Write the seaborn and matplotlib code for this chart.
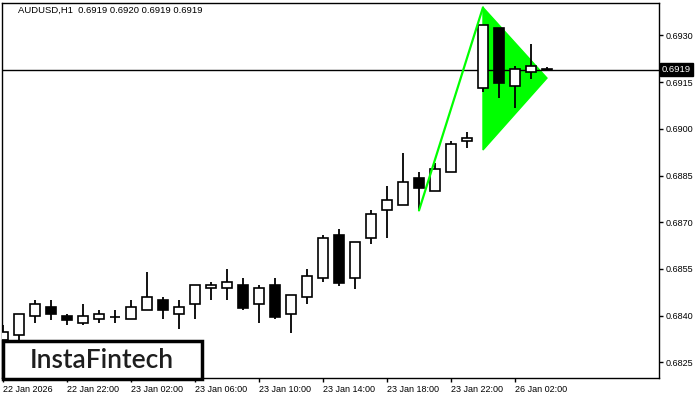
import matplotlib
matplotlib.use("Agg")
import matplotlib.pyplot as plt
from matplotlib.patches import Rectangle, Polygon
import numpy as np
import pandas as pd
import seaborn as sns

# hourly AUDUSD candles, 22 Jan 18:00 -> 26 Jan 04:00
opens = [0.68322, 0.68337, 0.68398, 0.68427, 0.68398, 0.68378, 0.68388, 0.68396,
         0.68388, 0.68417, 0.68449, 0.68407, 0.68436, 0.68488, 0.68488, 0.68497,
         0.68436, 0.68497, 0.68407, 0.68459, 0.68520, 0.68658, 0.68520, 0.68648,
         0.68738, 0.68757, 0.68841, 0.68799, 0.68860, 0.68960, 0.69130, 0.69323,
         0.69139, 0.69181, 0.69190]
highs = [0.68369, 0.68407, 0.68449, 0.68449, 0.68407, 0.68436, 0.68417, 0.68417,
         0.68449, 0.68539, 0.68459, 0.68449, 0.68497, 0.68507, 0.68549, 0.68520,
         0.68497, 0.68520, 0.68468, 0.68549, 0.68658, 0.68677, 0.68638, 0.68738,
         0.68818, 0.68921, 0.68860, 0.68889, 0.68960, 0.68989, 0.69332, 0.69323,
         0.69201, 0.69272, 0.69200]
lows = [0.68315, 0.68318, 0.68377, 0.68385, 0.68369, 0.68369, 0.68378, 0.68378,
        0.68388, 0.68417, 0.68388, 0.68356, 0.68388, 0.68449, 0.68449, 0.68417,
        0.68378, 0.68388, 0.68345, 0.68436, 0.68507, 0.68496, 0.68486, 0.68629,
        0.68648, 0.68757, 0.68738, 0.68799, 0.68860, 0.68940, 0.69119, 0.69100,
        0.69068, 0.69160, 0.69190]
closes = [0.68347, 0.68407, 0.68436, 0.68407, 0.68387, 0.68398, 0.68407, 0.68397,
          0.68427, 0.68459, 0.68417, 0.68427, 0.68497, 0.68497, 0.68507, 0.68425,
          0.68488, 0.68396, 0.68468, 0.68529, 0.68648, 0.68506, 0.68638, 0.68728,
          0.68770, 0.68828, 0.68809, 0.68870, 0.68950, 0.68969, 0.69332, 0.69148,
          0.69191, 0.69201, 0.69190]

tick_bars = [0, 4, 8, 12, 16, 20, 24, 28, 32]
tick_labels = ['22 Jan 2026', '22 Jan 22:00', '23 Jan 02:00', '23 Jan 06:00',
               '23 Jan 10:00', '23 Jan 14:00', '23 Jan 18:00', '23 Jan 22:00',
               '26 Jan 02:00']
price_ticks = [0.6825, 0.6840, 0.6855, 0.6870, 0.6885, 0.6900, 0.6915, 0.6930]
last_price = 0.6919

# bullish pennant: pole from low of bar 26 to top at bar 30, flag triangle
pole_bars = [26, 30]
pole_prices = [0.68738, 0.69390]
flag_bars = [30, 30, 34]
flag_prices = [0.69390, 0.68932, 0.69163]

df = pd.DataFrame({'open': opens, 'high': highs, 'low': lows, 'close': closes})
df['bar'] = np.arange(len(df))
df['up'] = df['close'] >= df['open']

sns.set_theme(style='white')
plt.rcParams['font.family'] = ['Liberation Sans', 'DejaVu Sans']

fig = plt.figure(figsize=(7, 4), dpi=100)
ax = fig.add_axes([2/700, 22/400, 657/700, 375/400])

# pennant
ax.add_patch(Polygon(list(zip(flag_bars, flag_prices)), closed=True,
                     facecolor='#00ff00', edgecolor='#00ff00', lw=1, zorder=1))
sns.lineplot(x=pole_bars, y=pole_prices, ax=ax, color='#00ff00', lw=1.6, zorder=4)

ax.axhline(last_price, color='black', lw=1, zorder=2)

# wicks
ax.vlines(df['bar'], df['low'], df['high'], color='black', lw=1.3, zorder=3)
# bodies
body_lo = np.minimum(df['open'], df['close'])
body_h = np.abs(df['close'] - df['open'])
body_h = np.maximum(body_h, 0.000012)
face = np.where(df['up'], 'white', 'black')
ax.bar(df['bar'], body_h, bottom=body_lo, width=0.64, color=face,
       edgecolor='black', linewidth=1.2, zorder=3)

ax.set_xlim(-0.06, 41.0)
ax.set_ylim(0.68200, 0.69404)

ax.yaxis.tick_right()
ax.set_yticks(price_ticks)
ax.set_yticklabels([f'{p:.4f}' for p in price_ticks])
ax.set_xticks(tick_bars)
ax.set_xticklabels(tick_labels, ha='left')
ax.tick_params(axis='both', which='both', direction='out', length=3, width=1,
               color='black', labelsize=6.5, labelcolor='black', pad=2)
ax.tick_params(axis='y', right=True, left=False)
ax.tick_params(axis='x', bottom=True)
for s in ax.spines.values():
    s.set_color('black')
    s.set_linewidth(1)
ax.set_xlabel('')
ax.set_ylabel('')

# current price tag
ax.text(1.004, last_price, f'{last_price:.4f}', transform=ax.get_yaxis_transform(),
        ha='left', va='center', fontsize=6.8, color='white',
        bbox=dict(boxstyle='square,pad=0.2', facecolor='black', edgecolor='black'))

fig.text(18/700, 1 - 10/400, 'AUDUSD,H1  0.6919 0.6920 0.6919 0.6919',
         ha='left', va='center', fontsize=6.8, color='black')

# logo box
fig.patches.append(Rectangle((3/700, 21/400), 199/700, 38/400, transform=fig.transFigure,
                             facecolor='white', edgecolor='black', lw=2.5, zorder=10))
fig.text(102/700, 40/400, 'InstaFintech', ha='center', va='center', fontsize=19,
         fontweight='semibold', color='#1e1e1e', family=['Lato', 'DejaVu Sans'], zorder=11)

fig.savefig('out.png', dpi=100)
